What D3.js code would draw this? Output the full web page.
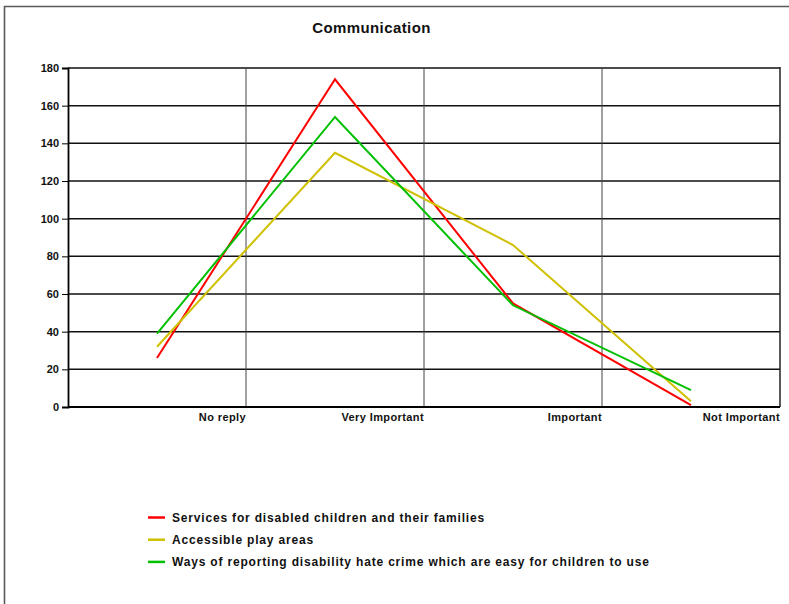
<!DOCTYPE html>
<html>
<head>
<meta charset="utf-8">
<script src="https://cdn.jsdelivr.net/npm/d3@7"></script>
<style>
  html, body { margin: 0; padding: 0; background: #fff; }
  svg { display: block; font-family: Arial, "Liberation Sans", sans-serif; }
</style>
</head>
<body>
<svg id="chart" width="789" height="604"></svg>
<script>
const categories = ["No reply", "Very Important", "Important", "Not Important"];
const seriesNames = [
  "Services for disabled children and their families",
  "Accessible play areas",
  "Ways of reporting disability hate crime which are easy for children to use"
];
const servicesValues = [26, 174, 55, 1];
const playAreasValues = [32, 135, 86, 3];
const hateCrimeValues = [39, 154, 54, 9];
const seriesColors = ["#ff0000", "#cfc000", "#00c000"];
const yTicks = [0, 20, 40, 60, 80, 100, 120, 140, 160, 180];
const chartTitle = "Communication";

(function () {
const series = [
  { name: seriesNames[0], values: servicesValues, color: seriesColors[0] },
  { name: seriesNames[1], values: playAreasValues, color: seriesColors[1] },
  { name: seriesNames[2], values: hateCrimeValues, color: seriesColors[2] }
];

const svg = d3.select("#chart");
const pLeft = 68, pRight = 780, pTop = 68, pBottom = 407;

const x = d3.scaleBand().domain(categories).range([pLeft, pRight]).padding(0);
const y = d3.scaleLinear().domain([0, 180]).range([pBottom, pTop]);

// outer frame (top and left visible)
svg.append("path")
  .attr("d", `M4.5,604 L4.5,6.5 L789,6.5`)
  .attr("fill", "none").attr("stroke", "#5a5a5a").attr("stroke-width", 1.6);

// title
svg.append("text")
  .attr("x", 371.5).attr("y", 33)
  .attr("text-anchor", "middle")
  .attr("font-size", 15).attr("font-weight", "bold")
  .attr("letter-spacing", 0.4)
  .attr("fill", "#111")
  .text(chartTitle);

// horizontal gridlines
svg.append("g").selectAll("line").data(yTicks.filter(d => d > 0)).join("line")
  .attr("x1", pLeft).attr("x2", pRight)
  .attr("y1", d => y(d)).attr("y2", d => y(d))
  .attr("stroke", "#111").attr("stroke-width", 1.5);

// vertical gridlines at band ends
svg.append("g").selectAll("line").data(categories.slice(0, 3)).join("line")
  .attr("x1", d => x(d) + x.bandwidth()).attr("x2", d => x(d) + x.bandwidth())
  .attr("y1", pTop).attr("y2", pBottom)
  .attr("stroke", "#444").attr("stroke-width", 1);

// right border of plot
svg.append("line")
  .attr("x1", pRight).attr("x2", pRight).attr("y1", pTop - 1).attr("y2", pBottom)
  .attr("stroke", "#222").attr("stroke-width", 1.5);

// y axis
const yAxis = svg.append("g")
  .attr("transform", `translate(${pLeft},0)`)
  .call(d3.axisLeft(y).tickValues(yTicks).tickSize(6).tickPadding(3));
yAxis.select(".domain").attr("stroke", "#000").attr("stroke-width", 1.8);
yAxis.selectAll(".tick line").attr("stroke", "#000").attr("stroke-width", 1);
yAxis.selectAll("text")
  .attr("font-size", 11).attr("font-weight", "bold")
  .attr("font-family", "Arial, 'Liberation Sans', sans-serif")
  .attr("fill", "#111");

// x axis baseline
svg.append("line")
  .attr("x1", pLeft).attr("x2", pRight).attr("y1", pBottom).attr("y2", pBottom)
  .attr("stroke", "#000").attr("stroke-width", 2);

// category labels, right aligned at band end
svg.append("g").selectAll("text").data(categories).join("text")
  .attr("x", d => x(d) + x.bandwidth())
  .attr("y", 420.5)
  .attr("text-anchor", "end")
  .attr("font-size", 11).attr("font-weight", "bold")
  .attr("letter-spacing", 0.4)
  .attr("fill", "#111")
  .text(d => d);

// lines
const line = d3.line()
  .x((d, i) => x(categories[i]) + x.bandwidth() / 2)
  .y(d => y(d));

svg.append("g").selectAll("path").data(series).join("path")
  .attr("d", d => line(d.values))
  .attr("fill", "none")
  .attr("stroke", d => d.color)
  .attr("stroke-width", 2)
  .attr("stroke-linejoin", "miter");

// legend
const legend = svg.append("g").selectAll("g").data(series).join("g")
  .attr("transform", (d, i) => `translate(148, ${517.5 + i * 22.2})`);
legend.append("line")
  .attr("x1", 0).attr("x2", 17).attr("y1", 0).attr("y2", 0)
  .attr("stroke", d => d.color).attr("stroke-width", 2.5);
legend.append("text")
  .attr("x", 24).attr("y", 4.5)
  .attr("font-size", 12).attr("font-weight", "bold")
  .attr("letter-spacing", 0.82)
  .attr("fill", "#111")
  .text(d => d.name);
})();
</script>
</body>
</html>
